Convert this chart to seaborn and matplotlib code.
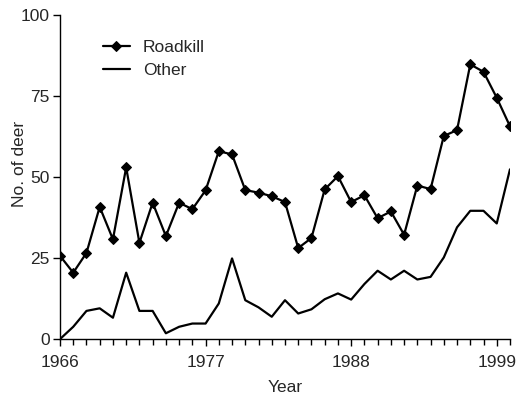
import numpy as np
import pandas as pd
import matplotlib.pyplot as plt
import seaborn as sns
from matplotlib.ticker import MultipleLocator

years = list(range(1966, 2001))
roadkill = [25.7, 20.5, 26.6, 40.8, 30.8, 53.0, 29.7, 42.1, 31.8, 42.1,
            40.1, 45.9, 58.0, 57.0, 46.0, 45.2, 44.1, 42.3, 28.1, 31.2,
            46.2, 50.3, 42.3, 44.4, 37.3, 39.4, 32.2, 47.4, 46.3, 62.7,
            64.5, 84.8, 82.5, 74.5, 65.7]
other = [0.0, 3.8, 8.7, 9.5, 6.6, 20.5, 8.7, 8.7, 1.8, 3.8,
         4.8, 4.8, 11.0, 24.9, 12.0, 9.8, 6.9, 12.0, 7.9, 9.2,
         12.3, 14.1, 12.2, 17.0, 21.1, 18.4, 21.1, 18.4, 19.2, 25.2,
         34.5, 39.6, 39.6, 35.7, 52.4]
xticks = [1966, 1977, 1988, 1999]
yticks = [0, 25, 50, 75, 100]

df = pd.DataFrame({'Year': years, 'Roadkill': roadkill, 'Other': other})

sns.set_style('ticks')
plt.rcParams['font.family'] = ['Liberation Sans', 'DejaVu Sans']

fig = plt.figure(figsize=(5.19, 3.98), dpi=100)
ax = fig.add_axes([0.1156, 0.148, 0.867, 0.814])

sns.lineplot(data=df, x='Year', y='Roadkill', ax=ax, color='black', lw=1.6,
             marker='D', markersize=5.5, markeredgecolor='black', label='Roadkill')
sns.lineplot(data=df, x='Year', y='Other', ax=ax, color='black', lw=1.6,
             label='Other')

ax.set_xlim(1966, 2000)
ax.set_ylim(0, 100)
ax.set_xticks(xticks)
ax.xaxis.set_minor_locator(MultipleLocator(1))
ax.set_yticks(yticks)
ax.tick_params(axis='both', which='major', labelsize=12.5, length=5, width=1,
               color='black', pad=2.5)
ax.tick_params(axis='x', which='major', pad=6.5)
ax.tick_params(axis='x', which='minor', length=4, width=1, color='black')
sns.despine(ax=ax)
for s in ['left', 'bottom']:
    ax.spines[s].set_color('black')
    ax.spines[s].set_linewidth(1)

ax.set_xlabel('Year', fontsize=12.5)
ax.set_ylabel('No. of deer', fontsize=12.5)
ax.xaxis.set_label_coords(0.5, -0.127)
ax.yaxis.set_label_coords(-0.074, 0.54)
ax.legend(loc='upper left', bbox_to_anchor=(0.08, 0.945), frameon=False,
          fontsize=12.5, handlelength=1.55, handletextpad=0.75, labelspacing=0.45,
          borderaxespad=0)

fig.savefig('out.png', dpi=100)
